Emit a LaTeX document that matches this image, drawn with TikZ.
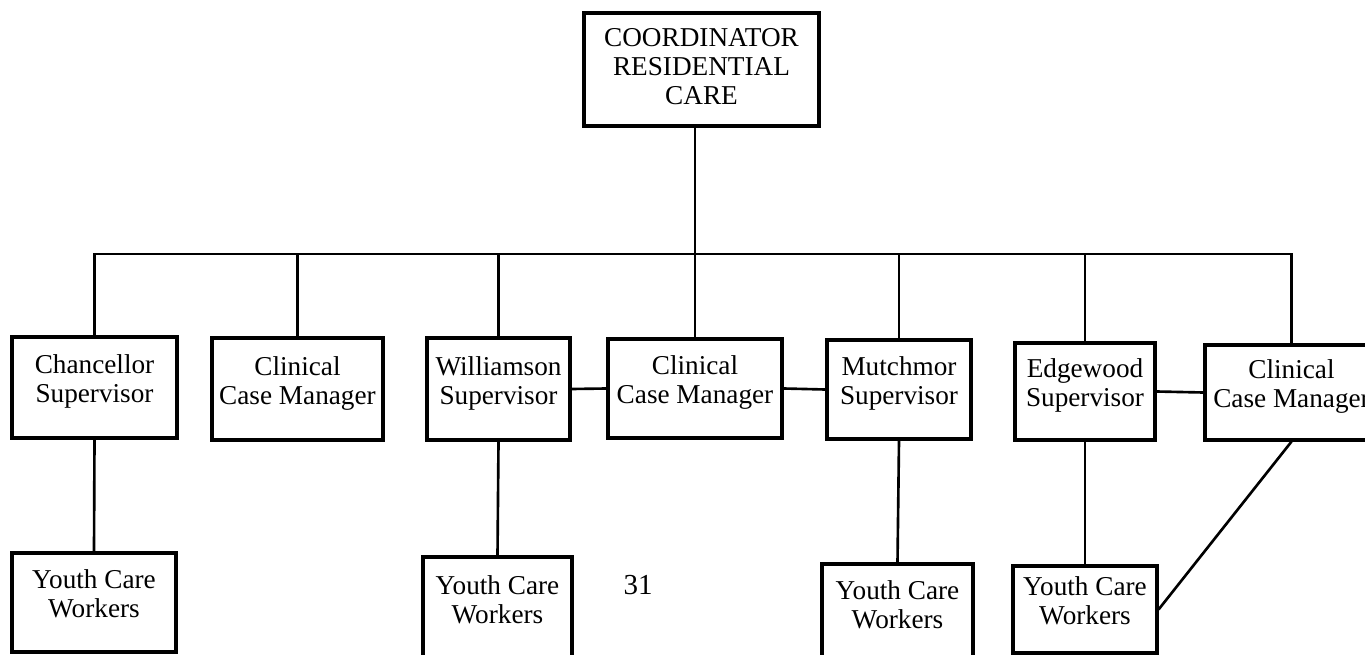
\documentclass[tikz,border=0pt]{standalone}
\usepackage{fontspec}
\setmainfont{Liberation Serif}

\tikzstyle{block} = [rectangle, draw, line width=1.8pt,
		text centered, inner sep=0pt, font=\fontsize{15.5}{16.5}\selectfont]
\tikzstyle{line} = [draw, line width=1.5pt]
\newcommand{\boxtext}[1]{\raisebox{3pt}[\height][\depth]{\begin{tabular}{@{}c@{}}#1\end{tabular}}}

\begin{document}
\begin{tikzpicture}[x=0.02cm, y=-0.02cm]
		\useasboundingbox (0,0) rectangle (1365,655);
		%Coordinator
		\node [block, minimum width=4.7cm, minimum height=2.26cm] (coord) at (701.5,69.5) {\begin{tabular}{@{}c@{}}COORDINATOR\\RESIDENTIAL\\CARE\end{tabular}};
		
		%Supervisors and case managers
		\node [block, minimum width=3.3cm, minimum height=2.02cm] (chanc) at (94.5,387.5) {\boxtext{Chancellor\\Supervisor}};
		\node [block, minimum width=3.42cm, minimum height=2.04cm] (clin1) at (297.5,389) {\boxtext{Clinical\\Case Manager}};
		\node [block, minimum width=2.86cm, minimum height=2.04cm] (will) at (498.5,389) {\boxtext{Williamson\\Supervisor}};
		\node [block, minimum width=3.48cm, minimum height=1.98cm] (clin2) at (695,388.5) {\boxtext{Clinical\\Case Manager}};
		\node [block, minimum width=2.88cm, minimum height=1.98cm] (mutch) at (899,389.5) {\boxtext{Mutchmor\\Supervisor}};
		\node [block, minimum width=2.8cm, minimum height=1.94cm] (edge) at (1085,391.5) {\boxtext{Edgewood\\Supervisor}};
		\node [block, minimum width=3.46cm, minimum height=1.9cm] (clin3) at (1291.5,392.5) {\boxtext{Clinical\\Case Manager}};
		
		%Youth care workers
		\node [block, minimum width=3.28cm, minimum height=1.98cm] (ycw1) at (94,602.5) {\boxtext{Youth Care\\Workers}};
		\node [block, minimum width=2.98cm, minimum height=2.06cm] (ycw2) at (497.5,608.5) {\boxtext{Youth Care\\Workers}};
		\node [block, minimum width=3.02cm, minimum height=1.96cm] (ycw3) at (897.5,613) {\boxtext{Youth Care\\Workers}};
		\node [block, minimum width=2.88cm, minimum height=1.74cm] (ycw4) at (1085,609.5) {\boxtext{Youth Care\\Workers}};
		
		%page number
		\node (page) at (638,585) {\fontsize{16.5}{18}\selectfont 31};
		
		%lines
		\coordinate (bus) at (0,254);
		\draw [line] (clin2.north) -- (clin2.north |- coord.south);
		\draw [line] (chanc.north) |- (bus -| clin3.north) -- (clin3.north);
		\draw [line] (clin1.north) -- (clin1.north |- bus);
		\draw [line] (will.north) -- (will.north |- bus);
		\draw [line] (mutch.north) -- (mutch.north |- bus);
		\draw [line] (edge.north) -- (edge.north |- bus);
		\draw [line] (will.east) -- (clin2.west);
		\draw [line] (clin2.east) -- (mutch.west);
		\draw [line] (edge.east) -- (clin3.west);
		\draw [line] (chanc.south) -- (ycw1.north);
		\draw [line] (will.south) -- (ycw2.north);
		\draw [line] (mutch.south) -- (ycw3.north);
		\draw [line] (edge.south) -- (ycw4.north);
		\draw [line] (ycw4.east) -- (clin3.south);
		
\end{tikzpicture}
\end{document}
